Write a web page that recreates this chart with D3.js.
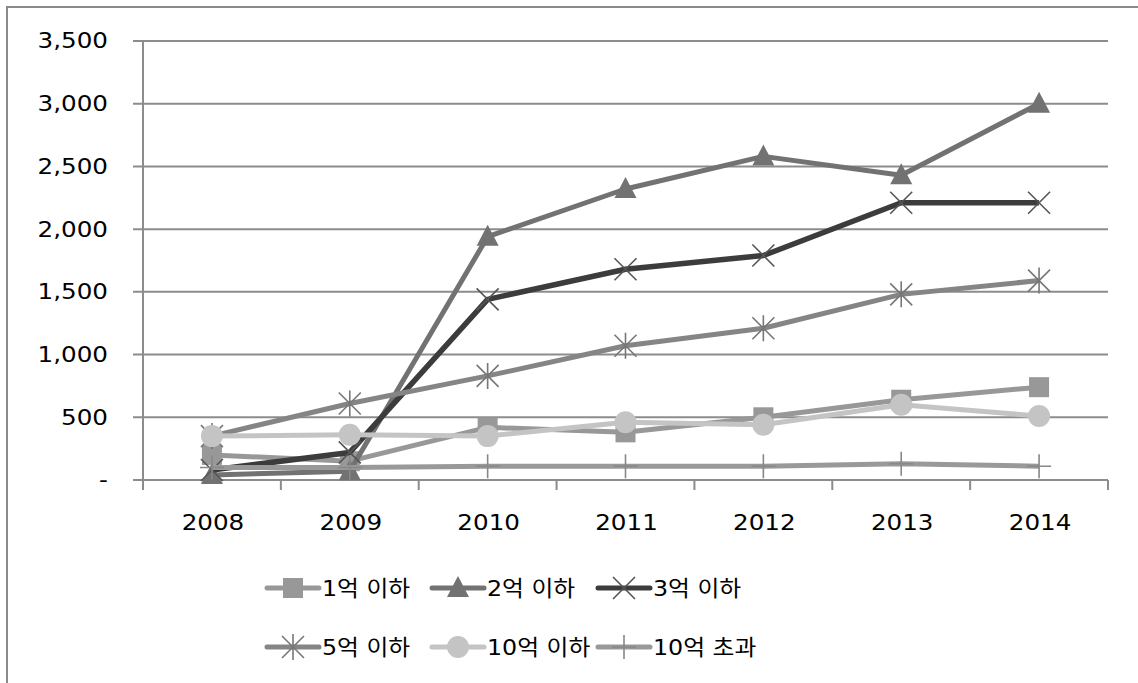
<!DOCTYPE html>
<html>
<head>
<meta charset="utf-8">
<script src="https://cdn.jsdelivr.net/npm/d3@7"></script>
<style>
  body { margin: 0; background: #fff; }
  text { font-family: "DejaVu Sans", "Noto Sans CJK KR", sans-serif; fill: #000; }
</style>
</head>
<body>
<div class="chart"></div>
<script>
const years = ["2008", "2009", "2010", "2011", "2012", "2013", "2014"];
const yTicks = [0, 500, 1000, 1500, 2000, 2500, 3000, 3500];

const seriesNames = ["1억 이하", "2억 이하", "3억 이하", "5억 이하", "10억 이하", "10억 초과"];
const under1 = [200, 150, 420, 380, 500, 640, 740];
const under2 = [40, 70, 1940, 2320, 2580, 2430, 3000];
const under3 = [80, 220, 1440, 1680, 1790, 2210, 2210];
const under5 = [350, 610, 830, 1070, 1210, 1480, 1590];
const under10 = [350, 360, 350, 460, 440, 600, 510];
const over10 = [100, 100, 110, 110, 110, 130, 110];

const colors = ["#989898", "#727272", "#3c3c3c", "#858585", "#c4c4c4", "#999999"];
const markers = ["square", "triangle", "x", "star", "circle", "plus"];
const allValues = [under1, under2, under3, under5, under10, over10];

const W = 1138, H = 683;
const margin = {left: 143, right: 30, top: 41, bottom: 203};
const plotW = 1108 - margin.left, plotH = 480 - margin.top;

const svg = d3.select(".chart").append("svg")
    .attr("width", W)
    .attr("height", H);

// outer chart border (runs off the picture right and bottom)
svg.append("rect")
    .attr("x", 7).attr("y", 7)
    .attr("width", W + 20).attr("height", H + 20)
    .attr("fill", "none")
    .attr("stroke", "#8a8a8a")
    .attr("stroke-width", 2);

const g = svg.append("g")
    .attr("transform", "translate(" + margin.left + "," + margin.top + ")");

const x = d3.scaleBand().domain(years).range([0, plotW]);
const y = d3.scaleLinear().domain([0, 3500]).range([plotH, 0]);

const gridColor = "#8c8c8c";

// horizontal gridlines (stretch left as tick marks)
g.append("g")
    .selectAll("line")
    .data(yTicks)
    .enter().append("line")
    .attr("x1", -10).attr("x2", plotW)
    .attr("y1", d => y(d)).attr("y2", d => y(d))
    .attr("stroke", gridColor)
    .attr("stroke-width", 2);

// y axis line
g.append("line")
    .attr("x1", 0).attr("x2", 0)
    .attr("y1", 0).attr("y2", plotH + 10)
    .attr("stroke", gridColor)
    .attr("stroke-width", 2);

// x tick marks at category boundaries
const bounds = years.map(d => x(d)).concat([plotW]).slice(1);
g.append("g")
    .selectAll("line")
    .data(bounds)
    .enter().append("line")
    .attr("x1", d => d).attr("x2", d => d)
    .attr("y1", plotH).attr("y2", plotH + 10)
    .attr("stroke", gridColor)
    .attr("stroke-width", 2);

// y labels (picture is stretched sideways, so stretch the text too)
g.append("g")
    .selectAll("text")
    .data(yTicks)
    .enter().append("text")
    .attr("transform", d => "translate(-35," + y(d) + ") scale(1.2,1)")
    .attr("dy", "0.36em")
    .attr("text-anchor", "end")
    .style("font-size", "20.5px")
    .text(d => d === 0 ? "-" : d3.format(",")(d));

// x labels
g.append("g")
    .selectAll("text")
    .data(years)
    .enter().append("text")
    .attr("transform", d => "translate(" + (x(d) + x.bandwidth() / 2 + 1) + "," + (plotH + 50) + ") scale(1.2,1)")
    .attr("text-anchor", "middle")
    .style("font-size", "20.5px")
    .text(d => d);

const drawMarker = (sel, type, color) => {
    if (type === "square") {
        sel.append("rect").attr("x", -10).attr("y", -10).attr("width", 20).attr("height", 20).attr("fill", color);
    } else if (type === "triangle") {
        sel.append("path").attr("d", "M0,-12L11,9L-11,9Z").attr("fill", color);
    } else if (type === "circle") {
        sel.append("circle").attr("r", 11).attr("fill", color);
    } else if (type === "x") {
        sel.append("path").attr("d", "M-11,-11L11,11M-11,11L11,-11")
            .attr("stroke", "#555").attr("stroke-width", 1.6).attr("fill", "none");
    } else if (type === "star") {
        sel.append("path").attr("d", "M-11,-11L11,11M-11,11L11,-11M0,-13L0,13")
            .attr("stroke", "#777").attr("stroke-width", 1.6).attr("fill", "none");
    } else if (type === "plus") {
        sel.append("path").attr("d", "M0,-12L0,12M-12,0L12,0")
            .attr("stroke", "#888").attr("stroke-width", 1.6).attr("fill", "none");
    }
};

const line = d3.line()
    .x((d, i) => x(years[i]) + x.bandwidth() / 2)
    .y(d => y(d));

allValues.forEach((vals, s) => {
    const sg = g.append("g").attr("class", "series");
    sg.append("path")
        .attr("d", line(vals))
        .attr("fill", "none")
        .attr("stroke", colors[s])
        .attr("stroke-width", s === 2 ? 5.5 : 5)
        .attr("stroke-linejoin", "round");
    sg.selectAll("g.m")
        .data(vals)
        .enter().append("g")
        .attr("class", "m")
        .attr("transform", (d, i) => "translate(" + (x(years[i]) + x.bandwidth() / 2) + "," + y(d) + ")")
        .each(function() { drawMarker(d3.select(this), markers[s], colors[s]); });
});

// legend
const legendPos = [[267, 588], [432, 588], [598, 588], [267, 647], [432, 647], [598, 647]];
const legend = svg.append("g")
    .selectAll("g")
    .data(seriesNames)
    .enter().append("g")
    .attr("transform", (d, i) => "translate(" + legendPos[i][0] + "," + legendPos[i][1] + ")");

legend.append("line")
    .attr("x1", 0).attr("x2", 52)
    .attr("stroke", (d, i) => colors[i])
    .attr("stroke-width", 5)
    .attr("stroke-linecap", "round");

legend.append("g")
    .attr("transform", "translate(26,0)")
    .each(function(d, i) { drawMarker(d3.select(this), markers[i], colors[i]); });

legend.append("text")
    .attr("transform", "translate(55,0) scale(1.08,1)")
    .attr("dy", "0.36em")
    .style("font-size", "22px")
    .text(d => d);
</script>
</body>
</html>
